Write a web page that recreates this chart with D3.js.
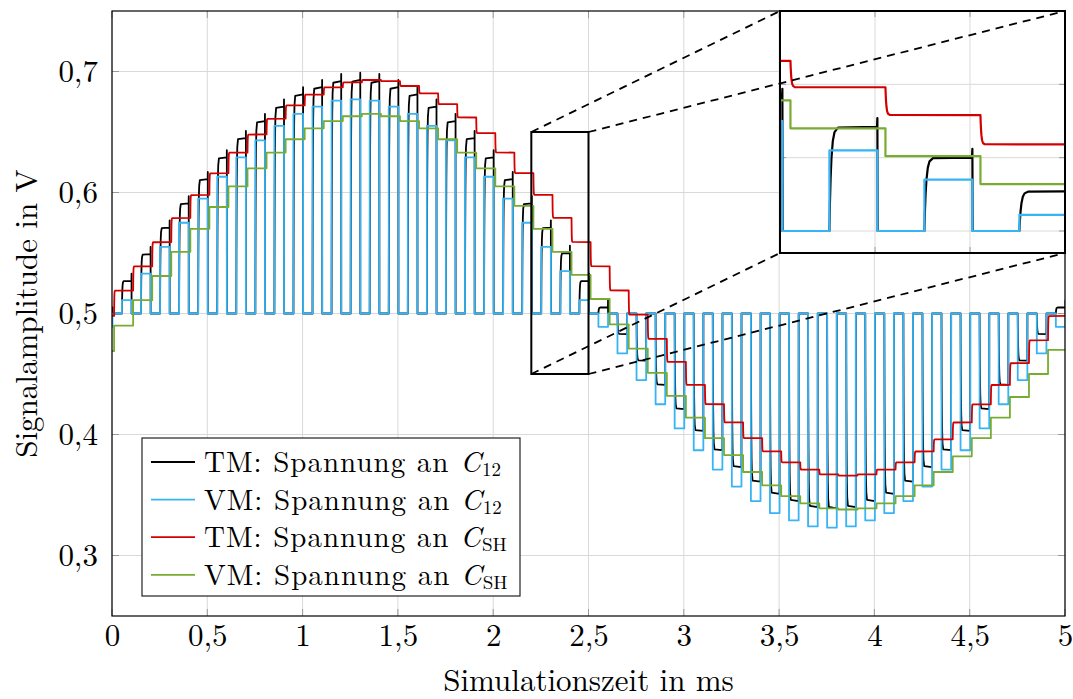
<!DOCTYPE html>
<meta charset="utf-8">
<html>
<head>
<style>
  body { margin: 0; background: #fff; }
  svg text { font-family: "Latin Modern Roman", "CMU Serif", "Liberation Serif", serif; fill: #000; }
  .domain { display: none; }
</style>
<script src="https://d3js.org/d3.v7.min.js"></script>
</head>
<body>
<svg width="1073" height="699"></svg>
<script>

// Sample-and-hold simulation, one sample every 0.1 ms
var period = 0.1,          // ms
    holdSwitchAt = 0.011,  // hold capacitor updates here within each period
    sampleOn = 0.052,      // C12 sampling phase starts
    sampleOff = 0.1025,    // ... and ends
    tEnd = 5;

// TM: Spannung an C_SH (held level after each switch instant)
var redStart = 0.498;
var red = [0.519, 0.539, 0.559, 0.579, 0.598, 0.616, 0.633, 0.648, 0.661, 0.672,
           0.681, 0.687, 0.691, 0.693, 0.692, 0.688, 0.682, 0.673, 0.662, 0.649,
           0.633, 0.616, 0.598, 0.579, 0.559, 0.539, 0.519, 0.499, 0.479, 0.460,
           0.441, 0.425, 0.410, 0.397, 0.386, 0.377, 0.371, 0.367, 0.366, 0.367,
           0.371, 0.377, 0.386, 0.396, 0.410, 0.425, 0.441, 0.459, 0.478, 0.498];

// VM: Spannung an C_SH
var greenStart = 0.469;
var green = [0.490, 0.511, 0.531, 0.551, 0.570, 0.588, 0.605, 0.620, 0.633, 0.644,
             0.653, 0.659, 0.663, 0.665, 0.663, 0.659, 0.653, 0.644, 0.633, 0.620,
             0.605, 0.589, 0.570, 0.551, 0.532, 0.512, 0.491, 0.471, 0.451, 0.432,
             0.414, 0.397, 0.383, 0.369, 0.358, 0.349, 0.343, 0.339, 0.338, 0.339,
             0.343, 0.349, 0.358, 0.369, 0.382, 0.397, 0.414, 0.431, 0.450, 0.470];

// VM: Spannung an C12 (level during each sampling pulse, 0.5 V otherwise)
var blueStart = 0.489;
var blue = [0.511, 0.533, 0.555, 0.575, 0.595, 0.613, 0.629, 0.643, 0.655, 0.665,
            0.671, 0.676, 0.677, 0.676, 0.671, 0.665, 0.655, 0.643, 0.629, 0.613,
            0.595, 0.575, 0.555, 0.535, 0.511, 0.489, 0.467, 0.445, 0.425, 0.405,
            0.387, 0.371, 0.357, 0.345, 0.335, 0.329, 0.324, 0.323, 0.324, 0.329,
            0.335, 0.345, 0.357, 0.371, 0.387, 0.405, 0.425, 0.445, 0.467, 0.489];

// TM: Spannung an C12
var blackStart = 0.505;
var black = [0.527, 0.549, 0.571, 0.591, 0.611, 0.629, 0.645, 0.659, 0.671, 0.681,
             0.687, 0.692, 0.693, 0.692, 0.687, 0.681, 0.671, 0.659, 0.645, 0.629,
             0.611, 0.591, 0.571, 0.550, 0.527, 0.505, 0.483, 0.461, 0.441, 0.421,
             0.403, 0.387, 0.373, 0.361, 0.351, 0.345, 0.340, 0.339, 0.340, 0.345,
             0.351, 0.361, 0.373, 0.387, 0.403, 0.421, 0.441, 0.461, 0.483, 0.505];

var xTicks = [0, 0.5, 1, 1.5, 2, 2.5, 3, 3.5, 4, 4.5, 5];
var yTicks = [0.3, 0.4, 0.5, 0.6, 0.7];
var insetXTicks = [2.3, 2.4];
var insetYTicks = [0.5, 0.55, 0.6];

var labels = ["TM: Spannung an ", "VM: Spannung an ", "TM: Spannung an ", "VM: Spannung an "];
var subs = ["12", "12", "SH", "SH"];
var colors = ["#000000", "#36b4f4", "#d40000", "#77ac30"];

var svg = d3.select("svg"),
    margin = {top: 11, right: 8, bottom: 83, left: 112},
    width = +svg.attr("width"),
    height = +svg.attr("height");

var x = d3.scaleLinear().domain([0, 5]).range([margin.left, width - margin.right]);
var y = d3.scaleLinear().domain([0.25, 0.75]).range([height - margin.bottom, margin.top]);

var de = d3.formatLocale({decimal: ",", thousands: ".", grouping: [3], currency: ["", ""]});

// ---- build the signal curves from the sample levels ----
var spike = 0.006, tauRise = 0.0018, tauHold = 0.0009;

function expEdge(pts, t0, from, to, tau) {
  [0.3, 0.7, 1.2, 2, 3, 5].forEach(function(m) {
    pts.push([t0 + m * tau, to + (from - to) * Math.exp(-m)]);
  });
}

function holdPoints(start, vals, tau) {
  var pts = [[0, start]], prev = start;
  vals.forEach(function(v, k) {
    var t0 = k * period + holdSwitchAt;
    pts.push([t0, prev]);
    if (tau) expEdge(pts, t0, prev, v, tau);
    else pts.push([t0, v]);
    prev = v;
  });
  pts.push([tEnd, prev]);
  return pts;
}

function pulsePoints(start, vals, tau, overshoot) {
  var pts = [[0, start], [sampleOff - period, start], [sampleOff - period, 0.5]];
  vals.forEach(function(v, k) {
    var t0 = k * period + sampleOn, t1 = k * period + sampleOff;
    pts.push([t0, 0.5]);
    if (tau) expEdge(pts, t0, 0.5, v, tau);
    else pts.push([t0, v]);
    if (overshoot) {
      pts.push([t1 - 0.0004, v]);
      pts.push([t1, v + overshoot]);
      pts.push([t1 + 0.0003, 0.5]);
    } else {
      pts.push([t1, v]);
      pts.push([t1, 0.5]);
    }
  });
  return pts;
}

var series = [
  pulsePoints(blackStart, black, tauRise, spike),
  pulsePoints(blueStart, blue, 0, 0),
  holdPoints(redStart, red, tauHold),
  holdPoints(greenStart, green, 0)
];

var defs = svg.append("defs");
defs.append("clipPath").attr("id", "clip-main").append("rect")
    .attr("x", x(0)).attr("y", y(0.75))
    .attr("width", x(5) - x(0)).attr("height", y(0.25) - y(0.75));

// ---- main grid ----
var grid = svg.append("g");
grid.selectAll(".gx").data(xTicks).enter().append("line")
    .attr("x1", d => x(d)).attr("x2", d => x(d))
    .attr("y1", y(0.25)).attr("y2", y(0.75))
    .attr("stroke", "#d9d9d9").attr("stroke-width", 1);
grid.selectAll(".gy").data(yTicks).enter().append("line")
    .attr("x1", x(0)).attr("x2", x(5))
    .attr("y1", d => y(d)).attr("y2", d => y(d))
    .attr("stroke", "#d9d9d9").attr("stroke-width", 1);

function innerTicks(g, xs, ys, xv, yv, len) {
  var xr = xs.range(), yr = ys.range();
  xv.forEach(function(d) {
    g.append("line").attr("x1", xs(d)).attr("x2", xs(d)).attr("y1", yr[0]).attr("y2", yr[0] - len);
    g.append("line").attr("x1", xs(d)).attr("x2", xs(d)).attr("y1", yr[1]).attr("y2", yr[1] + len);
  });
  yv.forEach(function(d) {
    g.append("line").attr("x1", xr[0]).attr("x2", xr[0] + len).attr("y1", ys(d)).attr("y2", ys(d));
    g.append("line").attr("x1", xr[1]).attr("x2", xr[1] - len).attr("y1", ys(d)).attr("y2", ys(d));
  });
  g.attr("stroke", "#9a9a9a").attr("stroke-width", 1);
}
innerTicks(svg.append("g"), x, y, xTicks, yTicks, 7);

// ---- main curves ----
var line = d3.line().x(d => x(d[0])).y(d => y(d[1]));
svg.append("g").attr("clip-path", "url(#clip-main)")
  .selectAll("path").data(series).enter().append("path")
    .attr("d", line)
    .attr("fill", "none")
    .attr("stroke", (d, i) => colors[i])
    .attr("stroke-width", 1.8)
    .attr("stroke-linejoin", "round");

// ---- axes ----
svg.append("g")
    .attr("transform", "translate(0," + y(0.25) + ")")
    .call(d3.axisBottom(x).tickValues(xTicks).tickFormat(de.format("~g")).tickSize(0).tickPadding(8));
svg.append("g")
    .attr("transform", "translate(" + x(0) + ",0)")
    .call(d3.axisLeft(y).tickValues(yTicks).tickFormat(de.format(".1f")).tickSize(0).tickPadding(14));
svg.selectAll(".tick text")
    .attr("font-family", null)
    .style("font-size", "31px");
svg.selectAll(".tick line").remove();

svg.append("text")
    .attr("x", (x(0) + x(5)) / 2).attr("y", 691)
    .attr("text-anchor", "middle").style("font-size", "31px")
    .text("Simulationszeit in ms");
svg.append("text")
    .attr("transform", "translate(37," + y(0.5) + ") rotate(-90)")
    .attr("text-anchor", "middle").style("font-size", "31px")
    .text("Signalamplitude in V");

// frame
svg.append("rect")
    .attr("x", x(0)).attr("y", y(0.75))
    .attr("width", x(5) - x(0)).attr("height", y(0.25) - y(0.75))
    .attr("fill", "none").attr("stroke", "#000").attr("stroke-width", 1.2);

// ---- legend ----
var legend = svg.append("g");
legend.append("rect")
    .attr("x", 142).attr("y", 438).attr("width", 378).attr("height", 158)
    .attr("fill", "#fff").attr("stroke", "#222").attr("stroke-width", 1.2);
labels.forEach(function(lab, i) {
  var ry = 462 + i * 37.6;
  legend.append("line")
      .attr("x1", 151).attr("x2", 195).attr("y1", ry).attr("y2", ry)
      .attr("stroke", colors[i]).attr("stroke-width", 1.8);
  var t = legend.append("text").attr("x", 204).attr("y", ry + 10).style("font-size", "29px");
  t.append("tspan").style("letter-spacing", "1px").text(lab);
  t.append("tspan").style("font-style", "italic").text("C");
  // subscript as its own text, placed right after the main label
  legend.append("text")
      .attr("x", 204 + t.node().getComputedTextLength() + 1)
      .attr("y", ry + 14)
      .style("font-size", "19px")
      .text(subs[i]);
});

// ---- zoom box and inset ----
var zx = [2.2, 2.5], zy = [0.45, 0.65];
var ins = {x0: 780, x1: x(5), y0: y(0.75), y1: 253};
var xi = d3.scaleLinear().domain(zx).range([ins.x0, ins.x1]);
var yi = d3.scaleLinear().domain([0.485, 0.65]).range([ins.y1, ins.y0]);

svg.append("rect")
    .attr("x", x(zx[0])).attr("y", y(zy[1]))
    .attr("width", x(zx[1]) - x(zx[0])).attr("height", y(zy[0]) - y(zy[1]))
    .attr("fill", "none").attr("stroke", "#000").attr("stroke-width", 2);

defs.append("clipPath").attr("id", "clip-inset").append("rect")
    .attr("x", ins.x0).attr("y", ins.y0)
    .attr("width", ins.x1 - ins.x0).attr("height", ins.y1 - ins.y0);

var inset = svg.append("g");
inset.append("rect")
    .attr("x", ins.x0).attr("y", ins.y0)
    .attr("width", ins.x1 - ins.x0).attr("height", ins.y1 - ins.y0)
    .attr("fill", "#fff");
inset.selectAll(".gx").data(insetXTicks).enter().append("line")
    .attr("x1", d => xi(d)).attr("x2", d => xi(d))
    .attr("y1", ins.y0).attr("y2", ins.y1)
    .attr("stroke", "#d9d9d9");
inset.selectAll(".gy").data(insetYTicks).enter().append("line")
    .attr("x1", ins.x0).attr("x2", ins.x1)
    .attr("y1", d => yi(d)).attr("y2", d => yi(d))
    .attr("stroke", "#d9d9d9");
innerTicks(inset.append("g"), xi, yi, insetXTicks, insetYTicks, 6);

var lineInset = d3.line().x(d => xi(d[0])).y(d => yi(d[1]));
inset.append("g").attr("clip-path", "url(#clip-inset)")
  .selectAll("path").data(series).enter().append("path")
    .attr("d", lineInset)
    .attr("fill", "none")
    .attr("stroke", (d, i) => colors[i])
    .attr("stroke-width", 2.2)
    .attr("stroke-linejoin", "round");
inset.append("rect")
    .attr("x", ins.x0).attr("y", ins.y0)
    .attr("width", ins.x1 - ins.x0).attr("height", ins.y1 - ins.y0)
    .attr("fill", "none").attr("stroke", "#000").attr("stroke-width", 2);

// dashed connectors from the zoom box corners to the inset corners
var connectors = [
  [[x(zx[0]), y(zy[1])], [ins.x0, ins.y0]],
  [[x(zx[1]), y(zy[1])], [ins.x1, ins.y0]],
  [[x(zx[0]), y(zy[0])], [ins.x0, ins.y1]],
  [[x(zx[1]), y(zy[0])], [ins.x1, ins.y1]]
];
svg.append("g").selectAll("line").data(connectors).enter().append("line")
    .attr("x1", d => d[0][0]).attr("y1", d => d[0][1])
    .attr("x2", d => d[1][0]).attr("y2", d => d[1][1])
    .attr("stroke", "#000").attr("stroke-width", 1.8)
    .attr("stroke-dasharray", "8,6");

</script>
</body>
</html>
